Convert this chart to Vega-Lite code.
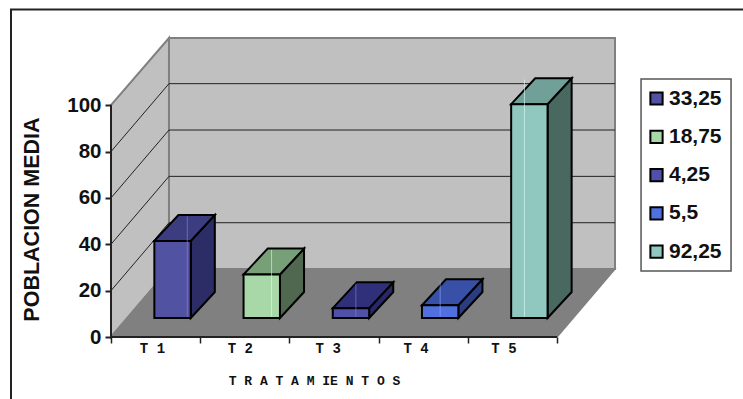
{
  "$schema": "https://vega.github.io/schema/vega-lite/v6.json",
  "width": 504,
  "height": 299,
  "autosize": "none",
  "padding": {"left": 111, "top": 38, "right": 128, "bottom": 62},
  "background": "white",
  "config": {"view": {"stroke": null}, "font": "Liberation Sans", "axis": {"grid": false}},
  "datasets": {
    "barras": [
      {"tratamiento": "T 1", "orden": 1, "valor": 33.25, "etiqueta": "33,25"},
      {"tratamiento": "T 2", "orden": 2, "valor": 18.75, "etiqueta": "18,75"},
      {"tratamiento": "T 3", "orden": 3, "valor": 4.25, "etiqueta": "4,25"},
      {"tratamiento": "T 4", "orden": 4, "valor": 5.5, "etiqueta": "5,5"},
      {"tratamiento": "T 5", "orden": 5, "valor": 92.25, "etiqueta": "92,25"}
    ],
    "rejilla": [
      {"marca": 20, "x": 0, "y": 20}, {"marca": 20, "x": 0.65, "y": 49.3}, {"marca": 20, "x": 5.65, "y": 49.3},
      {"marca": 40, "x": 0, "y": 40}, {"marca": 40, "x": 0.65, "y": 69.3}, {"marca": 40, "x": 5.65, "y": 69.3},
      {"marca": 60, "x": 0, "y": 60}, {"marca": 60, "x": 0.65, "y": 89.3}, {"marca": 60, "x": 5.65, "y": 89.3},
      {"marca": 80, "x": 0, "y": 80}, {"marca": 80, "x": 0.65, "y": 109.3}, {"marca": 80, "x": 5.65, "y": 109.3}
    ]
  },
  "layer": [
    {
      "description": "Top and left edges of the chart frame; this layer also carries the axes",
      "data": {"values": [{"paso": 1, "x": 7.1, "y": 141.3}, {"paso": 2, "x": -1.121, "y": 141.3}, {"paso": 3, "x": -1.121, "y": -27}]},
      "mark": {"type": "line", "color": "#222222", "strokeWidth": 2},
      "encoding": {
        "x": {"field": "x", "type": "quantitative", "scale": {"domain": [0, 5.65], "nice": false, "zero": false},
          "axis": {"zindex": 1, "values": [0, 1, 2, 3, 4, 5], "labels": false, "domain": false, "grid": false, "tickColor": "#222222", "tickWidth": 1.5, "tickSize": 6,
            "title": "T R A T A M IE N T O S", "titleFont": "Liberation Mono", "titleFontWeight": "bold", "titleFontSize": 13, "titleColor": "#111111", "titleX": 203, "titleY": 37, "titleAnchor": "middle", "titleAlign": "center"}},
        "y": {"field": "y", "type": "quantitative", "scale": {"domain": [0, 129], "nice": false, "zero": false},
          "axis": {"zindex": 1, "values": [0, 20, 40, 60, 80, 100], "domain": false, "grid": false, "tickColor": "#222222", "tickWidth": 2, "tickSize": 6, "labelPadding": 4,
            "labelFont": "Liberation Sans", "labelFontWeight": "bold", "labelFontSize": 20.5, "labelColor": "#111111",
            "title": "POBLACION MEDIA", "titleFont": "Liberation Sans", "titleFontWeight": "bold", "titleFontSize": 21.5, "titleColor": "#111111", "titleX": -68, "titleY": 181, "titleAnchor": "middle"}},
        "order": {"field": "paso"}
      }
    },
    {
      "description": "Legend box",
      "data": {"values": [{"x": 5.942, "x2": 6.951, "y": 28.47, "y2": 111.3}]},
      "mark": {"type": "rect", "fill": "white", "stroke": "#555555", "strokeWidth": 1.5},
      "encoding": {
        "x": {"field": "x", "type": "quantitative", "scale": {"domain": [0, 5.65], "nice": false, "zero": false}},
        "x2": {"field": "x2"},
        "y": {"field": "y", "type": "quantitative", "scale": {"domain": [0, 129], "nice": false, "zero": false}},
        "y2": {"field": "y2"}
      }
    },
    {
      "description": "Left wall",
      "data": {"values": [{"x": 0, "y": 0, "y2": 100}, {"x": 0.65, "y": 29.3, "y2": 129}]},
      "mark": {"type": "area", "fill": "#C0C0C0", "stroke": "#808080", "strokeWidth": 2, "orient": "vertical"},
      "encoding": {
        "x": {"field": "x", "type": "quantitative", "scale": {"domain": [0, 5.65], "nice": false, "zero": false}},
        "y": {"field": "y", "type": "quantitative", "scale": {"domain": [0, 129], "nice": false, "zero": false}},
        "y2": {"field": "y2"}
      }
    },
    {
      "description": "Back wall",
      "data": {"values": [{"x": 0.65, "x2": 5.65, "y": 29.3, "y2": 129}]},
      "mark": {"type": "rect", "fill": "#C0C0C0", "stroke": "#808080", "strokeWidth": 2},
      "encoding": {
        "x": {"field": "x", "type": "quantitative", "scale": {"domain": [0, 5.65], "nice": false, "zero": false}},
        "x2": {"field": "x2"},
        "y": {"field": "y", "type": "quantitative", "scale": {"domain": [0, 129], "nice": false, "zero": false}},
        "y2": {"field": "y2"}
      }
    },
    {
      "description": "Floor",
      "data": {"values": [{"y": 0, "x": 0, "x2": 5}, {"y": 29.3, "x": 0.65, "x2": 5.65}]},
      "mark": {"type": "area", "fill": "#808080", "stroke": "#808080", "strokeWidth": 1.5, "orient": "horizontal"},
      "encoding": {
        "x": {"field": "x", "type": "quantitative", "scale": {"domain": [0, 5.65], "nice": false, "zero": false}},
        "x2": {"field": "x2"},
        "y": {"field": "y", "type": "quantitative", "scale": {"domain": [0, 129], "nice": false, "zero": false}}
      }
    },
    {
      "description": "Gridlines across both walls",
      "data": {"name": "rejilla"},
      "mark": {"type": "line", "color": "#222222", "strokeWidth": 1, "interpolate": "linear"},
      "encoding": {
        "x": {"field": "x", "type": "quantitative", "scale": {"domain": [0, 5.65], "nice": false, "zero": false}},
        "y": {"field": "y", "type": "quantitative", "scale": {"domain": [0, 129], "nice": false, "zero": false}},
        "detail": {"field": "marca"},
        "order": {"field": "x"}
      }
    },
    {
      "description": "Front axis lines",
      "data": {"values": [{"tramo": "y", "x": 0, "y": 100}, {"tramo": "y", "x": 0, "y": 0}, {"tramo": "y", "x": 5, "y": 0}]},
      "mark": {"type": "line", "color": "#222222", "strokeWidth": 2},
      "encoding": {
        "x": {"field": "x", "type": "quantitative", "scale": {"domain": [0, 5.65], "nice": false, "zero": false}},
        "y": {"field": "y", "type": "quantitative", "scale": {"domain": [0, 129], "nice": false, "zero": false}},
        "order": {"field": "x"},
        "detail": {"field": "tramo"}
      }
    },
    {
      "description": "Category labels",
      "data": {"name": "barras"},
      "transform": [{"calculate": "datum.orden * 0.985 - 0.52", "as": "xt"}, {"calculate": "0", "as": "y0"}],
      "mark": {"type": "text", "font": "Liberation Mono", "fontWeight": "bold", "fontSize": 14, "dy": 12, "color": "#111111"},
      "encoding": {
        "x": {"field": "xt", "type": "quantitative", "scale": {"domain": [0, 5.65], "nice": false, "zero": false}},
        "y": {"field": "y0", "type": "quantitative", "scale": {"domain": [0, 129], "nice": false, "zero": false}},
        "text": {"field": "tratamiento"}
      }
    },
    {
      "description": "Side faces, projected from each value",
      "data": {"name": "barras"},
      "transform": [
        {"calculate": "0", "as": "p0"}, {"calculate": "1", "as": "p1"},
        {"fold": ["p0", "p1"], "as": ["cara", "p"]},
        {"calculate": "datum.orden - 0.5 + 0.19 + 0.204 + datum.p * 0.27", "as": "xs"},
        {"calculate": "8.2 + datum.p * 11.2", "as": "ys"},
        {"calculate": "datum.ys + datum.valor", "as": "ys2"}
      ],
      "mark": {"type": "area", "stroke": "#000000", "strokeWidth": 2, "orient": "vertical"},
      "encoding": {
        "x": {"field": "xs", "type": "quantitative", "scale": {"domain": [0, 5.65], "nice": false, "zero": false}},
        "y": {"field": "ys", "type": "quantitative", "scale": {"domain": [0, 129], "nice": false, "zero": false}},
        "y2": {"field": "ys2"},
        "color": {"field": "etiqueta", "type": "nominal", "legend": null,
          "scale": {"domain": ["33,25", "18,75", "4,25", "5,5", "92,25"], "range": ["#2C2C66", "#506850", "#282868", "#2C3C80", "#486860"]}}
      }
    },
    {
      "description": "Top faces, projected from each value",
      "data": {"name": "barras"},
      "transform": [
        {"calculate": "0", "as": "p0"}, {"calculate": "1", "as": "p1"},
        {"fold": ["p0", "p1"], "as": ["cara", "p"]},
        {"calculate": "datum.orden - 0.5 + 0.19 - 0.204 + datum.p * 0.27", "as": "xa"},
        {"calculate": "datum.orden - 0.5 + 0.19 + 0.204 + datum.p * 0.27", "as": "xb"},
        {"calculate": "8.2 + datum.valor + datum.p * 11.2", "as": "yt"}
      ],
      "mark": {"type": "area", "stroke": "#000000", "strokeWidth": 2, "orient": "horizontal"},
      "encoding": {
        "x": {"field": "xa", "type": "quantitative", "scale": {"domain": [0, 5.65], "nice": false, "zero": false}},
        "x2": {"field": "xb"},
        "y": {"field": "yt", "type": "quantitative", "scale": {"domain": [0, 129], "nice": false, "zero": false}},
        "color": {"field": "etiqueta", "type": "nominal", "legend": null,
          "scale": {"domain": ["33,25", "18,75", "4,25", "5,5", "92,25"], "range": ["#3C3C80", "#78A078", "#30307A", "#3850A8", "#70A098"]}}
      }
    },
    {
      "description": "Front faces with the series legend",
      "data": {"name": "barras"},
      "transform": [
        {"calculate": "datum.orden - 0.5 + 0.19 - 0.204", "as": "xa"},
        {"calculate": "datum.orden - 0.5 + 0.19 + 0.204", "as": "xb"},
        {"calculate": "8.2", "as": "base"},
        {"calculate": "8.2 + datum.valor", "as": "cima"}
      ],
      "mark": {"type": "rect", "stroke": "#000000", "strokeWidth": 2},
      "encoding": {
        "x": {"field": "xa", "type": "quantitative", "scale": {"domain": [0, 5.65], "nice": false, "zero": false}},
        "x2": {"field": "xb"},
        "y": {"field": "base", "type": "quantitative", "scale": {"domain": [0, 129], "nice": false, "zero": false}},
        "y2": {"field": "cima"},
        "color": {"field": "etiqueta", "type": "nominal",
          "scale": {"domain": ["33,25", "18,75", "4,25", "5,5", "92,25"], "range": ["#5252A2", "#A8D8A8", "#5050A8", "#5070E0", "#90C8C0"]},
          "legend": {"title": null, "orient": "none", "legendX": 529, "legendY": 44,
            "padding": 6, "rowPadding": 16.3, "symbolType": "square", "symbolSize": 150, "symbolStrokeColor": "#000000", "symbolStrokeWidth": 2, "symbolOpacity": 1,
            "labelFont": "Liberation Sans", "labelFontWeight": "bold", "labelFontSize": 21, "labelColor": "#111111", "labelOffset": 2}}
      }
    },
    {
      "description": "Light streak on each bar, over the front and top faces",
      "data": {"name": "barras"},
      "transform": [
        {"calculate": "datum.orden * 0.945 - 0.09", "as": "xl"},
        {"calculate": "8.7", "as": "base"},
        {"calculate": "8.2 + datum.valor + 10.6", "as": "cima"}
      ],
      "mark": {"type": "rule", "strokeWidth": 1, "opacity": 0.6},
      "encoding": {
        "x": {"field": "xl", "type": "quantitative", "scale": {"domain": [0, 5.65], "nice": false, "zero": false}},
        "y": {"field": "base", "type": "quantitative", "scale": {"domain": [0, 129], "nice": false, "zero": false}},
        "y2": {"field": "cima"},
        "color": {"field": "etiqueta", "type": "nominal", "legend": null,
          "scale": {"domain": ["33,25", "18,75", "4,25", "5,5", "92,25"], "range": ["#8888C8", "#E0FFE0", "#8888C8", "#90A8FF", "#E0FFFF"]}}
      }
    }
  ],
  "resolve": {"scale": {"color": "independent"}}
}
